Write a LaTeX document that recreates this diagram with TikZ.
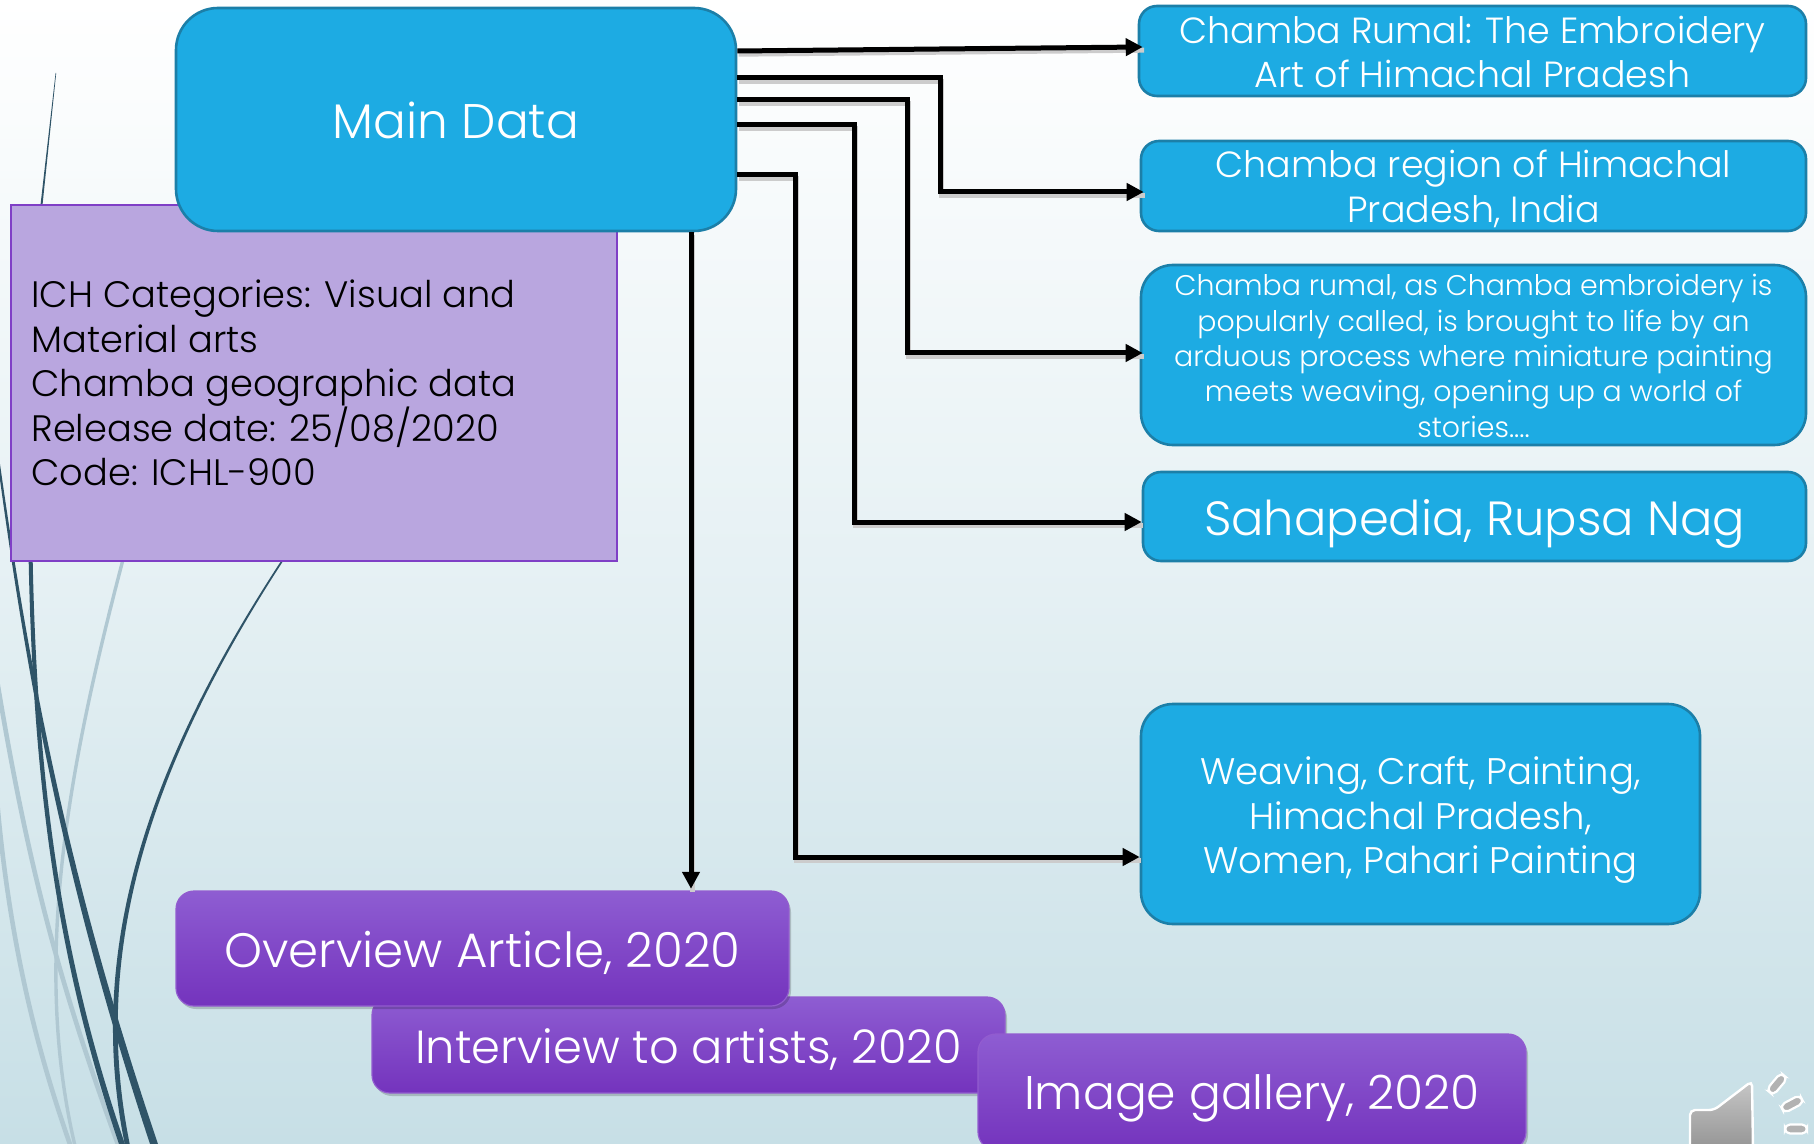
\documentclass[tikz,border=0pt]{standalone}
\usepackage{fontspec}
\setmainfont{Poppins Light}
\usetikzlibrary{arrows.meta,shadows,calc}
\definecolor{bluefill}{HTML}{1DABE3}
\definecolor{blueedge}{HTML}{1C7FA8}
\definecolor{lilac}{HTML}{B9A6DF}
\definecolor{violetedge}{HTML}{7F3FC6}
\definecolor{viotop}{HTML}{8E5DD2}
\definecolor{viobot}{HTML}{7433BD}
\definecolor{wispdark}{HTML}{2F5468}
\definecolor{wisplight}{HTML}{B0C8D2}
\definecolor{bgbot}{HTML}{C7DFE6}
\newcommand{\dn}[1]{\rule{0pt}{#1}}
\tikzset{
  bluebox/.style={draw=blueedge,line width=1.3pt,fill=bluefill,text=white,align=center,inner sep=0pt},
  viobox/.style={draw=violetedge!85!white,line width=.6pt,top color=viotop,bottom color=viobot,text=white,align=center,inner sep=0pt,rounded corners=9pt,
     drop shadow={shadow xshift=1pt,shadow yshift=-1.5pt,opacity=.18,fill=black}},
  infobox/.style={draw=violetedge,line width=.9pt,fill=lilac,text=black,inner sep=0pt},
  conn/.style={-{Triangle[length=8.5pt,width=8.5pt]},line width=2.5pt,black,
     preaction={draw=black!20,-,line width=2.5pt,transform canvas={shift={(.7pt,-1.6pt)}}}},
}
\begin{document}
\begin{tikzpicture}[x=0.5pt,y=-0.5pt]
\useasboundingbox (0,0) rectangle (1814,1144);
\clip (0,0) rectangle (1814,1144);
\shade[top color=white,bottom color=bgbot,middle color=white!55!bgbot] (0,0) rectangle (1814,1144);
% wisps
\draw[wisplight,line width=1.7pt] (125,552) .. controls (70,760) and (30,960) .. (76,1150);
\draw[wisplight,line width=2.3pt] (-3,680) .. controls (30,880) and (65,1000) .. (120,1150);
\draw[wisplight,line width=2.3pt] (-3,800) .. controls (10,950) and (40,1060) .. (72,1150);
\fill[wispdark] (55.6,73) -- (40.5,205) -- (42.5,205) -- (56.2,73) -- cycle;
\fill[wispdark] (-4,450) .. controls (29,700) and (69,900) .. (152,1150) -- (160,1150) .. controls (75,900) and (33,700) .. (-2,450) -- cycle;
\fill[wispdark] (28,500) .. controls (29,800) and (63,980) .. (121,1150) -- (127,1150) .. controls (68,980) and (33,800) .. (32,500) -- cycle;
\fill[wispdark] (287,552) .. controls (149,760) and (83,950) .. (126,1150) -- (131,1150) .. controls (88,950) and (152,760) .. (289,552) -- cycle;
% info box
\node[infobox,minimum width=302.75pt,minimum height=178pt] (info) at (314,383) {};
\node[anchor=west,inner sep=0pt,align=left,text=black,font=\fontsize{18.4}{22.3}\selectfont] (infotext) at (31,383)
 {ICH Categories: Visual and\\Material arts\\Chamba geographic data\\Release date: 25/08/2020\\Code: ICHL-900};
% main
\node[bluebox,rounded corners=21pt,minimum width=280pt,minimum height=111.5pt,font=\fontsize{24.3}{30}\selectfont] (main) at (456,119.5) {\dn{19.2pt}Main Data};
% right boxes
\node[bluebox,rounded corners=9pt,minimum width=333.5pt,minimum height=45pt,font=\fontsize{18.2}{22.3}\selectfont] (b1) at (1472.5,51) {\dn{14.5pt}Chamba Rumal: The Embroidery\\Art of Himachal Pradesh};
\node[bluebox,rounded corners=9pt,minimum width=332.5pt,minimum height=45pt,font=\fontsize{18.2}{22.3}\selectfont] (b2) at (1473.5,186) {\dn{16.5pt}Chamba region of Himachal\\Pradesh, India};
\node[bluebox,rounded corners=16pt,minimum width=332.5pt,minimum height=90pt,font=\fontsize{14.2}{17.7}\selectfont] (b3) at (1473.5,355) {\dn{11.7pt}Chamba rumal, as Chamba embroidery is\\popularly called, is brought to life by an\\arduous process where miniature painting\\meets weaving, opening up a world of\\stories....};
\node[bluebox,rounded corners=9pt,minimum width=331.5pt,minimum height=44.5pt,font=\fontsize{24}{29}\selectfont] (b4) at (1474.5,516.5) {\dn{25.5pt}Sahapedia, Rupsa Nag};
\node[bluebox,rounded corners=16pt,minimum width=279.5pt,minimum height=110pt,font=\fontsize{18.5}{22.3}\selectfont] (b5) at (1420.5,814) {\dn{20.1pt}Weaving, Craft, Painting,\\Himachal Pradesh,\\Women, Pahari Painting};
% violet boxes
\node[viobox,minimum width=316.5pt,minimum height=48pt,font=\fontsize{23.2}{29}\selectfont] (inter) at (688.5,1045) {\dn{21.7pt}Interview to artists, 2020};
\node[viobox,minimum width=306.5pt,minimum height=57.5pt,font=\fontsize{24.15}{30}\selectfont] (over) at (482.5,948.5) {\dn{22.4pt}Overview Article, 2020};
\node[viobox,minimum width=274pt,minimum height=58pt,font=\fontsize{23.6}{29}\selectfont] (gal) at (1252,1092) {\dn{23.5pt}Image gallery, 2020};
% connectors
\draw[conn] ([yshift=34.25pt]main.east) -- ([xshift=2.5pt,yshift=2pt]b1.west);
\draw[conn] ([yshift=20.75pt]main.east) -- ++(203,0) |- ([xshift=2pt,yshift=-3pt]b2.west);
\draw[conn] ([yshift=9.75pt]main.east) -- ++(170,0) |- ([xshift=1.5pt,yshift=1pt]b3.west);
\draw[conn] ([yshift=-2.75pt]main.east) -- ++(117,0) |- ([yshift=-2.75pt]b4.west);
\draw[conn] ([yshift=-27.75pt]main.east) -- ++(58,0) |- ([yshift=-21.5pt]b5.west);
\draw[conn] ([xshift=117.5pt]main.south) -- ([xshift=104.25pt,yshift=.8pt]over.north);
% speaker
\draw[white,line width=1.2pt,top color=black!22,bottom color=black!42,rounded corners=2.5pt] (1690,1150) -- (1690,1110) -- (1714,1110) -- (1752,1081) -- (1753,1150) -- cycle;
\foreach \cx/\cy/\ang/\nm in {1777/1084/50/s1,1792/1104/28/s2,1796/1129/0/s3}{
 \node[draw=white,line width=1.1pt,fill=black!30,rounded corners=2.5pt,minimum width=11pt,minimum height=4.5pt,inner sep=0pt,rotate=\ang] (\nm) at (\cx,\cy) {};
}
\end{tikzpicture}
\end{document}
